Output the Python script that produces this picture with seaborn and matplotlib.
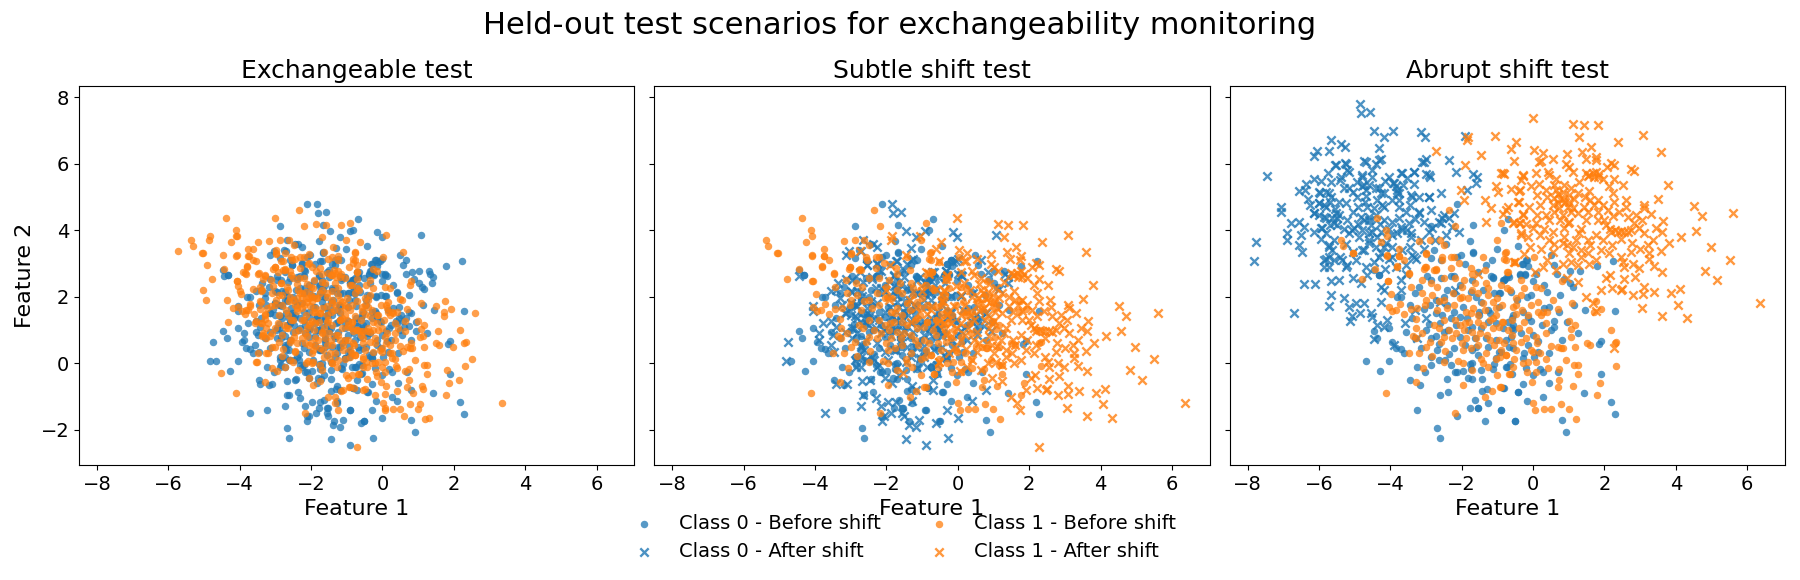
import numpy as np
import matplotlib
matplotlib.use("Agg")
import matplotlib.pyplot as plt
import seaborn as sns

TITLE = "Held-out test scenarios for exchangeability monitoring"
PANEL_TITLES = ["Exchangeable test", "Subtle shift test", "Abrupt shift test"]
LEGEND_LABELS = ["Class 0 - Before shift", "Class 0 - After shift",
                 "Class 1 - Before shift", "Class 1 - After shift"]

# Pre-change samples (feature 1, feature 2), identical in all three panels
class0_before = [
 (-4.67,.08),(-4.05,.08),(-4.28,-.25),(-4.46,.96),(-4.05,1.05),(-4.36,.75),(-3.94,.63),(-3.83,.45),(-3.71,.43),(-3.63,.3),
 (-3.24,-.1),(-3.04,-.28),(-2.85,-.04),(-2.63,.11),(-2.47,.11),(-2.35,.27),(-3.46,-.52),(-3.18,-.65),(-2.42,-.49),(-3.24,-1.42),
 (-2.62,-.97),(-2.37,-.88),(-2.68,-1.94),(-2.62,-2.24),(-2.12,-1.6),(-1.78,-1.36),(-1.55,-1.34),(-1.53,-1.36),(-1.64,-1.12),(-1.27,-1.21),
 (-1.43,-.85),(-1.3,-.79),(-1.36,-1.73),(-.91,-1.42),(-.51,-1.73),(-.43,-.88),(-.83,-.76),(-1.43,-.49),(-1.81,-.46),(-1.71,-.49),
 (-2.18,-.28),(-2.12,-.28),(-1.97,-.25),(-1.75,-.19),(-1.7,.02),(-1.77,-.01),(-1.09,-.01),(-.76,-.11),(-.65,-.01),(-1.13,-.16),
 (-3.15,.45),(-2.87,.2),(-2.65,.58),(-2.21,.45),(-1.72,.4),(-2.72,.82),(-2.37,1.0),(-2.16,1.15),(-2.91,1.18),(-2.99,1.0),(-1.62,.75),
 (-2.71,1.5),(-2.54,1.45),(-3.06,1.62),(-3.8,2.0),(-3.71,2.0),(-2.96,2.61),(-2.85,2.51),(-2.58,2.56),(-2.3,2.63),(-2.21,2.63),
 (-3.3,2.12),(-3.19,2.3),(-2.42,2.2),(-2.21,2.1),(-2.72,1.9),(-4.32,2.66),(-1.67,3.33),(-2.02,3.26),(-2.58,3.11),
 (-1.18,2.61),(-1.13,2.56),(-1.41,2.2),(-1.09,2.1),(-.85,2.51),(-.76,2.56),(-.62,2.15),(-.95,2.1),(-1.51,1.55),(-1.27,1.6),(-1.51,1.45),
 (-.57,1.45),(-.71,1.25),(-.55,1.15),(-.57,1.0),(-1.04,.7),(-1.32,.75),(-.76,.7),(-2.21,1.55),(-1.83,1.0),
 (.49,3.25),(-.18,3.11),(-.31,2.99),(-.15,2.94),(.58,2.95),(.66,2.69),(1.03,2.77),(1.31,2.77),(1.78,2.92),(2.23,3.07),(.88,2.53),(1.03,2.4),(1.11,2.3),
 (-.37,2.69),(-.24,2.69),(.07,2.69),(-.69,2.66),(-.81,2.51),(-.01,2.46),(.3,2.34),(-.18,1.98),(-.93,2.1),(.46,1.68),(.74,1.53),(1.45,1.59),(2.29,1.56),
 (-.29,1.53),(-.15,1.4),(-.06,1.28),(.58,1.26),(.6,1.08),(.5,1.0),(1.25,.9),(-.59,1.35),(-.58,1.05),(-.62,.8),(.13,.66),(-.67,.5),(-.9,.34),(1.84,.57),(1.9,.66),
 (.44,.3),(.03,.19),(-.29,.17),(-.74,-.1),(.19,-.16),(.28,-.28),(-.01,-.36),(.69,-.28),(1.9,-.34),(-.59,-.33),(-.82,-.76),(-.29,-.64),(-.41,-.88),(.44,-.61),
 (-.18,-1.15),(.27,-1.03),(1.42,-.91),(-.9,-1.42),(-.52,-1.73),(.8,-1.7),(.91,-2.06),(2.18,-1.18),(2.29,-1.54),
 (-2.12,4.78),(-1.67,4.16),(-1.77,3.68),(-1.67,3.34),(-.81,4.01),(-.69,4.33),(-2.87,4.13),(-2.44,3.59),(-2.77,3.41),(-2.87,3.16),(-4.32,2.65),(-4.46,2.8),
 (-.43,3.53),(-.29,3.0),(-.2,3.1),(-.38,2.65),(-.24,2.65),(-1.02,3.43),(-1.13,2.6),(-.81,2.5),(-.67,2.6),(-1.9,3.0),(-2.12,3.2),(-1.32,2.95),
 (-1.6,2.0),(-1.95,1.7),(-1.25,1.25),(-.95,1.7),(-2.05,.8),(-1.55,.25),(-.95,.35),(-.35,.9),(-.15,.55),(-2.4,1.75),(-1.7,2.5),(-.45,1.9),
 (-2.5,.95),(-2.3,1.35),(-2.05,1.4),(-1.85,1.35),(-1.7,1.1),(-1.45,1.05),(-1.2,1.5),(-1.05,1.2),(-.85,1.05),(-2.6,1.2),(-2.85,.75),(-3.3,.75),(-3.55,.95),(-3.4,1.35),
 (-1.9,.55),(-1.6,.5),(-1.25,.5),(-.55,.45),(-.25,.3),(.0,.85),(.25,1.15),(.3,1.65),(-.05,2.05),(.4,2.15),(-1.45,1.85),(-1.75,2.15),(-2.05,2.35),(-2.5,2.0),
 (-3.45,1.75),(-2.9,1.75),(-1.05,.15),(-1.45,-.2),(-2.3,-.05),(-2.7,.4),(-.2,-.15),(.15,.35),(.8,.7),(.95,1.25),(1.15,1.75),(.75,2.05),(-1.55,2.75),(-1.15,3.1),
]

class1_before = [
 (-4.11,-.91),(-3.49,.32),(-3.36,.82),(-3.27,.75),(-4.05,1.68),(-3.94,1.56),(-3.83,1.6),(-3.61,1.47),(-3.72,1.77),(-3.97,2.07),(-4.06,2.47),(-4.78,2.53),(-4.44,2.84),
 (-5.05,3.33),(-4.08,3.26),(-3.8,2.93),(-3.75,3.23),(-3.08,-.13),(-3.29,-.58),(-2.18,-1.51),(-1.95,-.67),(-1.34,-1.03),(-1.16,-.85),(-.94,-.73),(-1.02,-.37),(-.66,-.34),
 (-2.09,.08),(-1.96,.0),(-2.46,.37),(-1.95,.4),(-2.82,.23),(-3.0,.5),(-2.89,.65),(-3.29,1.32),(-3.27,1.05),(-3.1,.9),(-2.77,1.15),(-3.43,1.62),(-3.24,1.65),(-3.02,1.75),(-2.99,1.9),
 (-3.47,2.71),(-3.12,2.51),(-3.43,2.3),(-3.1,2.12),(-2.82,2.05),(-2.68,2.3),(-2.63,1.88),(-2.99,3.31),(-3.02,2.91),(-2.72,2.81),(-2.3,3.21),(-2.3,2.86),(-2.21,3.21),(-2.07,3.01),(-1.74,2.86),
 (-1.93,2.51),(-1.62,2.41),(-1.98,2.0),(-1.83,1.95),(-2.21,1.75),(-2.4,1.65),(-1.88,1.55),(-1.69,1.65),(-1.32,2.41),(-1.41,1.8),(-1.13,1.85),(-1.04,1.65),(-1.79,1.25),(-1.55,1.25),(-1.41,1.15),
 (-1.13,1.35),(-1.13,1.05),(-.85,1.25),(-2.16,.9),(-2.26,.75),(-2.49,.8),(-2.58,.65),(-1.88,.75),(-1.6,.75),(-1.93,1.0),(-.95,.7),(-.81,.6),(-1.32,.3),(-1.46,.14),(-1.41,.0),(-1.04,.14),(-.9,.4),(-1.27,-.11),(-.76,.24),
 (-1.41,3.21),(-.76,3.36),(-.76,3.11),(-.71,2.76),(-.66,2.2),(-.48,1.95),(-.57,1.7),(-.78,3.33),(-.81,3.13),(-.53,3.06),(.03,3.19),(-.72,2.76),(-.34,2.51),(-.72,2.25),(-.25,2.25),(.08,2.3),(.22,2.25),(.81,2.46),
 (.15,1.85),(-.86,1.75),(-.48,1.75),(.15,1.55),(.22,1.45),(.27,1.55),(.69,1.62),(1.08,1.8),(1.75,1.88),(1.91,1.62),(1.72,1.55),(-.48,1.48),(-.86,1.25),(-.25,1.23),(-.39,1.05),(-.11,1.0),(.36,.9),(.08,.8),
 (1.0,1.26),(1.17,1.14),(1.07,1.04),(1.05,.8),(2.18,.99),(1.5,.6),(1.6,.56),(2.33,.63),(2.29,.6),(1.17,.48),(.5,.52),(.69,.5),(.83,.45),(.78,.45),(-.34,.63),(-.48,.4),(-.06,.4),(-.01,.35),(-.76,.24),(-.92,.19),
 (.92,.11),(.36,.14),(.08,.04),(-.13,.04),(-.29,.02),(-.53,.14),(1.16,-.04),(1.25,-.04),(2.32,-.07),(.41,-.13),(1.25,-.34),(.74,-.19),(-.17,-.28),(-.67,-.33),(.08,-.28),
 (.74,-.52),(-.04,-.58),(.69,-.73),(1.11,-.7),(1.87,-.61),(-.9,-.73),(1.78,-.97),(.01,-1.21),(.77,-1.24),(.06,-1.42),(.3,-1.39),(.49,-1.39),(1.0,-1.39),(1.19,-1.67),
 (-4.37,4.38),(-4.11,4.0),(-4.09,3.83),(-4.25,3.64),(-5.37,3.71),(-5.32,3.53),(-5.04,3.33),(-4.09,3.24),(-3.76,3.44),(-3.76,3.22),(-3.62,3.12),(-3.8,2.9),(-4.07,2.46),
 (-3.48,2.7),(-3.19,3.67),(-2.88,3.7),(-2.99,3.3),(-2.62,3.7),(-2.49,3.56),(-2.35,4.6),(-2.73,2.85),(-3.01,2.9),(-3.06,2.85),(-2.78,2.8),(-2.54,3.1),(-2.56,3.2),(-2.19,4.13),(-.9,4.21),(-1.02,3.71),
 (-1.7,2.2),(-1.25,2.05),(-1.0,1.95),(-1.5,.9),(-1.2,.7),(-.6,.85),(-2.0,2.3),(-.3,1.6),(.35,1.2),
 (-2.2,1.3),(-2.05,1.15),(-1.9,1.2),(-1.7,.95),(-1.55,1.45),(-1.35,1.6),(-1.2,1.3),(-1.05,1.45),(-.95,1.1),(-1.75,1.5),(-2.5,1.3),(-2.35,1.0),(-2.65,1.05),(-2.0,.6),(-1.75,.45),
 (-1.55,.55),(-1.3,.85),(-1.1,.55),(-.7,1.0),(-.55,.6),(-.2,.75),(.1,.6),(-2.7,1.6),(-2.5,1.9),(-2.25,2.1),(-2.05,1.95),(-1.55,2.1),(-1.25,2.25),(-.9,2.35),(-.35,2.05),
 (-.05,1.75),(-.15,1.45),(-.6,1.3),(.4,1.55),(.55,1.9),(-2.85,2.4),(-2.5,2.55),(-2.2,2.55),(-1.7,2.7),(-1.35,2.8),(-3.2,.3),(-2.5,.05),(-1.7,-.2),(-.55,-.1),(.2,.3),
]

# Post-change samples as they sit in the abrupt-shift panel
class0_after = [
 (-4.84,7.8),(-4.81,7.53),(-4.58,7.56),(-4.46,6.98),(-4.18,6.81),(-3.92,6.99),(-3.14,6.95),(-3.02,6.81),(-1.92,6.85),(-7.45,5.63),(-7.76,3.64),(-7.82,3.07),
 (-5.66,6.72),(-5.37,6.59),(-5.26,6.51),(-6.05,6.38),(-6.14,6.25),(-5.71,6.38),(-4.31,6.47),(-4.25,6.14),(-4.74,6.08),(-4.41,6.0),(-4.5,5.82),(-3.0,6.14),(-3.12,6.06),(-2.35,6.12),(-2.16,5.76),
 (-1.68,5.7),(-1.58,5.6),(-1.6,5.41),(-1.84,5.22),(-5.53,5.97),(-5.25,6.0),(-5.2,5.82),(-5.74,5.74),(-6.14,5.54),(-6.36,5.4),(-6.4,5.21),(-6.55,5.18),(-5.39,5.6),(-4.78,5.67),(-4.92,5.47),
 (-3.71,5.74),(-3.33,5.77),(-3.52,5.57),(-3.0,5.7),(-2.88,5.62),(-4.05,5.6),(-3.92,5.42),(-3.85,5.32),(-3.8,5.11),(-4.78,5.32),(-4.67,5.21),(-4.69,5.03),(-4.32,5.27),(-4.27,5.11),
 (-6.0,5.16),(-5.81,5.16),(-5.67,5.01),(-6.0,4.81),(-5.81,4.71),(-5.3,5.27),(-5.25,4.81),(-5.44,4.86),(-4.93,5.01),(-4.46,4.66),(-3.43,5.06),(-3.19,5.01),(-2.91,5.01),(-2.58,5.11),
 (-4.22,4.76),(-3.75,4.71),(-3.94,4.91),(-7.05,4.71),(-7.05,4.56),(-6.14,4.51),(-6.0,4.46),(-5.81,4.36),(-5.53,4.51),(-6.77,4.21),(-6.55,4.26),(-6.42,4.09),(-6.89,3.91),(-6.49,3.86),(-6.89,3.71),(-6.56,3.56),(-6.47,3.34),
 (-5.95,4.06),(-5.81,3.91),(-5.58,4.21),(-5.49,4.36),(-5.16,3.91),(-4.83,4.41),(-4.6,4.31),(-5.02,4.06),(-4.78,4.01),(-4.5,3.96),(-4.36,3.81),(-4.6,3.71),(-4.13,3.61),(-3.94,3.51),(-3.75,4.36),(-3.47,4.21),(-3.66,4.01),(-3.43,3.91),
 (-2.54,4.36),(-2.35,4.36),(-2.58,4.21),(-2.26,4.11),(-2.07,3.96),(-2.91,3.96),(-3.19,4.51),(-2.21,4.51),(-5.72,3.56),(-5.63,3.41),(-5.81,3.15),(-5.35,3.1),(-5.25,2.9),(-5.72,2.9),(-5.86,2.9),
 (-4.78,3.41),(-4.27,3.31),(-3.94,3.2),(-3.38,3.26),(-3.29,3.15),(-3.66,3.41),(-4.69,2.9),(-4.64,2.65),(-4.83,2.4),(-6.42,2.38),(-6.1,2.38),(-5.67,2.47),(-4.27,2.3),(-3.57,2.7),
 (-5.66,2.05),(-5.72,1.72),(-6.71,1.5),(-5.3,1.95),(-5.16,1.7),(-4.96,1.82),(-4.86,1.5),(-5.12,1.27),(-4.74,1.82),(-4.55,1.5),(-4.51,1.4),(-4.27,1.85),(-4.18,2.2),(-4.37,1.14),(-4.09,1.29),(-4.18,1.09),
 (-5.96,5.13),(-5.72,5.13),(-6.0,4.81),(-5.87,4.76),(-5.68,4.86),(-6.15,4.51),(-5.87,4.41),(-5.63,4.36),(-5.49,4.16),(-5.68,4.16),(-5.91,4.06),(-4.79,5.62),(-4.6,5.36),(-4.74,5.36),(-4.41,5.26),(-4.18,5.11),
 (-3.9,5.42),(-3.8,5.21),(-3.76,4.91),(-3.38,5.01),(-2.92,5.01),(-5.07,4.0),(-4.74,4.31),(-4.6,4.41),(-4.55,4.16),(-4.6,3.91),(-4.88,3.81),(-4.74,3.41),(-4.6,3.61),(-4.18,4.71),(-4.37,4.91),
 (-5.72,3.2),(-5.58,3.1),(-5.4,3.2),(-5.21,2.95),(-5.87,3.1),(-5.72,3.5),(-5.58,3.7),(-4.18,4.31),(-3.95,4.26),(-3.71,4.11),(-3.8,3.91),(-3.52,4.01),(-3.43,3.81),(-3.2,4.56),(-2.63,4.26),(-2.49,4.46),(-2.82,4.06),
 (-4.41,3.5),(-4.18,3.5),(-4.32,3.2),(-3.34,3.2),(-3.57,2.95),(-3.76,5.11),(-5.26,6.02),(-5.54,5.97),(-5.16,5.77),(-5.4,5.52),(-5.16,5.26),(-4.69,6.07),(-4.32,6.12),(-3.06,6.07),(-2.92,5.67),(-3.66,5.74),(-3.34,5.77),
 (-4.45,.72),(-3.26,.76),(-5.06,1.42),(-3.9,.55),(-3.6,1.2),(-3.3,1.6),(-3.0,1.35),(-2.6,1.85),(-2.2,2.2),(-3.7,2.2),
 (-5.2,4.3),(-5.05,4.55),(-4.9,4.7),(-4.7,4.85),(-4.4,4.45),(-4.3,4.2),(-4.9,4.2),(-5.3,4.05),(-5.25,3.6),(-5.05,3.35),(-4.95,3.1),(-4.45,3.05),(-4.15,2.85),(-3.85,2.9),(-3.45,3.5),
 (-3.15,3.7),(-3.05,3.45),(-2.75,3.7),(-2.45,3.85),(-6.25,4.75),(-6.3,4.95),(-5.55,4.65),(-5.45,4.45),(-5.95,3.75),(-6.15,3.95),(-4.25,3.95),(-4.05,4.05),(-3.95,3.85),(-4.65,4.7),(-3.55,4.55),
 (-3.45,4.75),(-3.3,4.35),(-3.05,4.25),(-2.85,4.6),(-5.05,5.15),(-4.5,5.6),(-4.15,5.5),(-3.65,5.35),(-3.35,5.4),(-5.95,5.5),(-5.65,5.45),(-4.05,3.15),(-3.7,2.5),(-5.05,2.55),(-5.45,2.5),
]

class1_after = [
 (-.01,7.38),(1.13,7.19),(1.42,7.16),(1.83,7.17),(1.3,6.8),(3.09,6.86),(2.37,6.65),(3.58,6.35),(-.48,6.65),(-.62,6.44),(-.53,6.09),(.03,6.42),(.27,6.32),(.22,6.09),(.55,6.14),(.94,6.29),(1.37,6.35),(1.62,6.5),
 (1.77,6.22),(1.75,6.12),(1.47,6.14),(2.19,6.02),(2.07,5.9),(2.28,5.97),(2.75,5.85),(2.84,5.79),(-.84,5.72),(-.29,5.64),(-.34,5.52),(.08,5.74),(.41,5.77),(.45,5.67),(.17,6.07),(.92,6.0),(1.02,5.9),(1.13,5.77),
 (1.48,5.72),(1.67,5.72),(1.81,5.6),(1.77,5.77),(1.58,5.67),(2.28,5.54),(2.14,5.34),(2.53,5.35),(3.78,5.36),(-.62,5.24),(-.39,5.18),(-.06,5.32),(.17,5.4),(.6,5.37),(.64,5.21),(1.06,5.27),(1.25,5.11),(.88,5.37),
 (1.58,5.17),(1.81,4.91),(2.23,5.11),(2.28,4.86),(2.59,4.91),(3.5,4.93),(3.1,4.76),(3.12,4.66),(4.51,4.72),(4.72,4.42),(5.6,4.51),(-.39,4.84),(-.11,4.71),(.6,4.96),(.69,4.81),(.55,4.76),(.74,4.66),(1.02,4.86),(.97,4.71),(1.11,4.66),(1.44,4.71),(1.25,4.51),
 (1.81,4.56),(2.09,4.61),(2.42,4.56),(2.23,4.43),(2.65,4.41),(2.89,4.46),(-.76,4.61),(-.29,4.46),(-.53,4.26),(-.39,4.21),(.08,4.21),(.36,4.46),(.6,4.56),(.97,4.21),(.88,4.06),(1.02,4.26),(1.48,4.31),
 (1.81,4.31),(2.05,4.16),(2.19,3.96),(2.37,3.96),(2.56,3.96),(2.84,4.21),(2.98,4.06),(3.12,3.91),(3.64,4.28),(3.45,4.06),(3.62,3.96),(3.36,3.71),(4.15,3.81),(4.57,3.97),(4.98,3.49),(5.51,3.12),
 (3.81,3.61),(3.59,3.38),(3.22,3.56),(3.26,3.31),(3.26,3.15),(2.78,3.61),(-.34,3.91),(-.15,3.81),(-.01,4.06),(.45,3.71),(.88,3.81),(1.3,3.91),(1.77,3.86),
 (.22,3.43),(.83,3.61),(1.11,3.51),(1.34,3.41),(1.53,3.31),(1.91,3.41),(2.14,3.31),(1.77,3.1),(1.02,3.31),(1.06,3.05),(-.53,3.05),(.27,2.9),(.64,2.8),(1.25,2.95),(1.58,3.0),
 (2.53,3.05),(2.56,2.9),(2.8,3.0),(2.98,2.88),(3.38,2.92),(3.62,2.75),(2.05,2.55),(2.16,2.65),(2.56,2.53),(4.82,2.79),(5.15,2.49),(2.21,2.25),(2.47,2.2),(2.5,2.22),(2.8,2.04),(3.1,2.3),(3.08,2.08),(3.4,2.15),(3.87,2.1),(4.13,2.22),
 (4.06,1.76),(3.06,1.66),(3.61,1.41),(4.31,1.35),(6.36,1.8),(1.48,1.98),(1.67,1.8),(1.75,1.58),(1.25,2.45),(2.28,.47),
 (-2.73,6.39),(-1.83,6.82),(-1.86,6.72),(-1.06,6.84),(-1.46,6.27),(-1.91,5.97),(-2.02,5.21),(-1.93,4.91),(-1.34,4.91),(-1.18,4.66),(-1.04,5.32),(-.99,5.16),(-.38,5.21),(-.9,5.74),(-.81,5.7),(-.29,5.67),
 (-.43,4.86),(-.71,4.71),(-.85,4.49),(-.29,4.49),(-1.32,4.24),(-.57,4.21),(-.38,4.21),(-.34,3.86),(-.52,3.05),(-1.53,2.7),
 (.4,5.0),(.85,4.95),(1.6,4.9),(1.95,4.75),(.3,4.05),(1.55,3.7),(.55,3.35),(-.1,3.5),(2.45,3.75),(.95,2.55),(.05,2.75),(1.9,2.2),(2.85,2.6),(.45,4.3),
 (.7,5.1),(.85,5.15),(1.0,5.05),(1.15,4.95),(.75,4.95),(.9,4.85),(1.05,4.55),(.85,4.45),(.75,4.3),(1.55,4.55),(1.7,4.75),(2.0,4.3),(2.15,4.05),(2.3,4.0),(2.45,3.98),(2.65,3.95),
 (2.75,4.0),(1.55,5.65),(1.7,5.6),(1.85,5.7),(1.95,5.55),(.65,5.55),(1.3,5.45),(1.45,5.0),(.35,5.2),(.2,4.75),(.1,4.45),(-.2,4.2),(.2,3.85),(.55,3.95),(.6,3.6),(.95,3.55),
 (1.2,3.7),(1.35,3.2),(1.6,3.55),(1.95,3.7),(2.2,3.55),(2.45,3.2),(2.75,3.35),(3.0,3.45),(-.25,3.3),(.4,3.1),(.85,3.0),(1.35,4.05),(3.05,4.3),(3.3,4.5),(2.6,4.7),(.1,5.05),
]

# Translations between panels, read from isolated samples seen in all three
ABRUPT_TO_PLAIN = {0: (3.0, -3.0), 1: (-3.0, -3.0)}
ABRUPT_TO_SUBTLE = {0: (3.0, -3.0), 1: (0.0, -3.0)}

BLUE, ORANGE = sns.color_palette("tab10")[:2]
XLIM = (-8.5, 7.06)
YLIM = (-3.07, 8.35)


def dots(ax, pts, color, label):
    sns.scatterplot(x=pts[:, 0], y=pts[:, 1], ax=ax, color=color, marker="o", s=29,
                    alpha=0.75, linewidth=0, label=label, legend=False)


def crosses(ax, pts, color, label):
    sns.scatterplot(x=pts[:, 0], y=pts[:, 1], ax=ax, color=color, marker="x", s=36,
                    alpha=0.8, linewidth=1.7, label=label, legend=False)


b0, b1 = np.array(class0_before), np.array(class1_before)
a0, a1 = np.array(class0_after), np.array(class1_after)

fig, axes = plt.subplots(1, 3, figsize=(18, 5.8), dpi=100, sharex=True, sharey=True)
fig.subplots_adjust(left=0.0439, right=0.9917, top=0.852, bottom=0.198, wspace=0.036)

# Panel without a shift: every sample uses the round marker
dots(axes[0], np.vstack([b0, a0 + ABRUPT_TO_PLAIN[0]]), BLUE, None)
dots(axes[0], np.vstack([b1, a1 + ABRUPT_TO_PLAIN[1]]), ORANGE, None)

dots(axes[1], b0, BLUE, LEGEND_LABELS[0])
crosses(axes[1], a0 + ABRUPT_TO_SUBTLE[0], BLUE, LEGEND_LABELS[1])
dots(axes[1], b1, ORANGE, LEGEND_LABELS[2])
crosses(axes[1], a1 + ABRUPT_TO_SUBTLE[1], ORANGE, LEGEND_LABELS[3])

dots(axes[2], b0, BLUE, LEGEND_LABELS[0])
crosses(axes[2], a0, BLUE, LEGEND_LABELS[1])
dots(axes[2], b1, ORANGE, LEGEND_LABELS[2])
crosses(axes[2], a1, ORANGE, LEGEND_LABELS[3])

for ax, title in zip(axes, PANEL_TITLES):
    ax.set_title(title, fontsize=18)
    ax.set_xlim(*XLIM)
    ax.set_ylim(*YLIM)
    ax.set_xticks(range(-8, 7, 2))
    ax.set_yticks(range(-2, 9, 2))
    ax.set_xlabel("Feature 1", fontsize=16)
    ax.tick_params(labelsize=14)
axes[0].set_ylabel("Feature 2", fontsize=16)

fig.suptitle(TITLE, fontsize=22, y=0.9565, va="center")
handles, labels = axes[1].get_legend_handles_labels()
fig.legend(handles, labels, loc="lower center", bbox_to_anchor=(0.5, 0.002),
           ncol=2, frameon=False, fontsize=14)

fig.savefig("out.png", dpi=100)
